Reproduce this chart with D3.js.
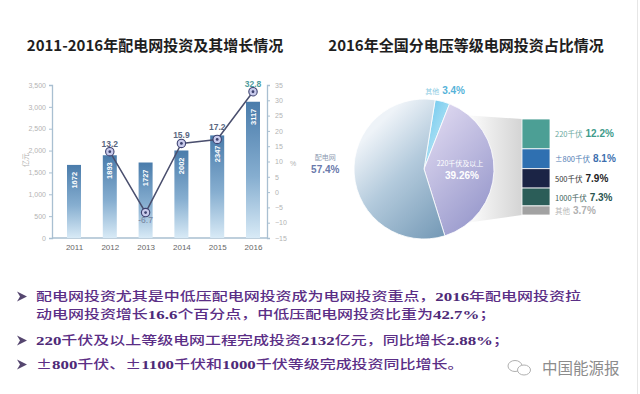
<!DOCTYPE html>
<html><head><meta charset="utf-8">
<script src="https://cdn.jsdelivr.net/npm/d3@7"></script>
<style>body{margin:0;background:#fff;} svg{display:block}</style>
</head><body><svg id="c" width="640" height="394"></svg>
<script>
// ---------- data ----------
const years = ["2011","2012","2013","2014","2015","2016"];
const investment = [1672,1893,1727,2002,2347,3117];
const growth = [null,13.2,-6.7,15.9,17.2,32.8];
const leftTicks = [0,500,1000,1500,2000,2500,3000,3500];
const rightTicks = [-15,-10,-5,0,5,10,15,20,25,30,35];
const leftTitle = "2011-2016年配电网投资及其增长情况";
const rightTitle = "2016年全国分电压等级电网投资占比情况";
const pieNames = ["其他","220千伏及以上","配电网"];
const pieValues = [3.4,39.26,57.4];
const subNames = ["220千伏","±800千伏","500千伏","1000千伏","其他"];
const subValues = [12.2,8.1,7.9,7.3,3.7];
const bulletLines = [
  "配电网投资尤其是中低压配电网投资成为电网投资重点，2016年配电网投资拉",
  "动电网投资增长16.6个百分点，中低压配电网投资比重为42.7%；",
  "220千伏及以上等级电网工程完成投资2132亿元，同比增长2.88%；",
  "±800千伏、±1100千伏和1000千伏等级完成投资同比增长。"
];
const bulletFlags = [true,false,true,true];
const watermark = "中国能源报";

// ---------- setup ----------
const svg = d3.select("#c");
const defs = svg.append("defs");
const CJK = "'Noto Sans CJK SC','Noto Sans',sans-serif";
const LAT = "'Liberation Sans','Noto Sans CJK SC',sans-serif";

svg.append("rect").attr("width",640).attr("height",394).attr("fill","#fff");
svg.append("line").attr("x1",637.5).attr("x2",637.5).attr("y1",0).attr("y2",394)
  .attr("stroke","#e6e6e6");

// titles
svg.append("text").attr("x",155).attr("y",51).attr("text-anchor","middle")
  .attr("font-family",CJK).attr("font-size",15).attr("font-weight",700).attr("fill","#1e1e1e")
  .text(leftTitle);
svg.append("text").attr("x",466).attr("y",51).attr("text-anchor","middle")
  .attr("font-family",CJK).attr("font-size",15).attr("font-weight",700).attr("fill","#1e1e1e")
  .text(rightTitle);

// ---------- left chart ----------
const plotL = 52, plotR = 267, plotT = 85, plotB = 238;
const x = d3.scalePoint().domain(years).range([74,253]);
const yL = d3.scaleLinear().domain([0,3500]).range([plotB,plotT]);
const yR = d3.scaleLinear().domain([-15,35]).range([plotB,plotT]);

const barGrad = defs.append("linearGradient").attr("id","barG")
  .attr("x1",0).attr("y1",0).attr("x2",0).attr("y2",1);
barGrad.append("stop").attr("offset","0%").attr("stop-color","#4a7cab");
barGrad.append("stop").attr("offset","55%").attr("stop-color","#86aed0");
barGrad.append("stop").attr("offset","100%").attr("stop-color","#d8eaf6");

const axisColor = "#a9bfd1";
const gL = svg.append("g").attr("transform",`translate(${plotL},0)`)
  .call(d3.axisLeft(yL).tickValues(leftTicks).tickSize(3).tickPadding(3));
const gR = svg.append("g").attr("transform",`translate(${plotR},0)`)
  .call(d3.axisRight(yR).tickValues(rightTicks).tickSize(3).tickPadding(5));
[gL,gR].forEach(g=>{
  g.select(".domain").attr("stroke",axisColor).attr("stroke-width",1.3);
  g.selectAll(".tick line").attr("stroke",axisColor);
  g.selectAll(".tick text").attr("fill","#b3b3b3").attr("font-size",7).attr("font-family",LAT);
});
svg.append("line").attr("x1",plotL).attr("x2",plotR).attr("y1",plotB).attr("y2",plotB)
  .attr("stroke",axisColor).attr("stroke-width",1.3);
const gX = svg.append("g").attr("transform",`translate(0,${plotB})`)
  .call(d3.axisBottom(x).tickSize(0).tickPadding(6));
gX.select(".domain").remove();
gX.selectAll(".tick text").attr("fill","#666").attr("font-size",8).attr("font-family",LAT);

svg.append("text").attr("transform","translate(28,160) rotate(-90)")
  .attr("text-anchor","middle").attr("font-family",CJK).attr("font-size",7).attr("fill","#b0b0b0").text("亿元");
svg.append("text").attr("x",290).attr("y",166)
  .attr("font-family",LAT).attr("font-size",7).attr("fill","#b0b0b0").text("%");

const barW = 14;
svg.append("g").selectAll("rect").data(investment).join("rect")
  .attr("x",(d,i)=>x(years[i])-barW/2).attr("width",barW)
  .attr("y",d=>yL(d)).attr("height",d=>plotB-yL(d))
  .attr("fill","url(#barG)");

// growth line
const gpts = growth.map((v,i)=>({year:years[i],v,inv:investment[i]})).filter(d=>d.v!=null);
svg.append("path").datum(gpts)
  .attr("d",d3.line().x(d=>x(d.year)).y(d=>yR(d.v)))
  .attr("fill","none").attr("stroke","#4a4f6e").attr("stroke-width",1.5);

svg.append("g").selectAll("text").data(investment).join("text")
  .attr("transform",(d,i)=>{
    const g = growth[i];
    let top = yL(d)+7;
    if(g!=null && g>0) top = Math.max(top, yR(g)+6);
    return `translate(${x(years[i])+2.5},${top}) rotate(-90)`;
  })
  .attr("text-anchor","end").attr("font-family",LAT).attr("font-size",7.5)
  .attr("font-weight",700).attr("fill","#fff").text(d=>d);

const mk = svg.append("g").selectAll("g").data(gpts).join("g")
  .attr("transform",d=>`translate(${x(d.year)},${yR(d.v)})`);
mk.append("circle").attr("r",4.2).attr("fill","#c9cbec").attr("stroke","#3d4270").attr("stroke-width",1.1);
mk.append("circle").attr("r",1.4).attr("fill","#3d4270");
svg.append("g").selectAll("text").data(gpts).join("text")
  .attr("x",d=>x(d.year))
  .attr("y",d=>d.v<0? yR(d.v)+10 : Math.min(yR(d.v),yL(d.inv))-5)
  .attr("text-anchor","middle").attr("font-family",LAT)
  .attr("font-size",8.5).attr("font-weight",d=>d.v<0?400:700)
  .attr("fill",(d,i)=> d.v<0 ? "#75839c" : (i===gpts.length-1 ? "#4f9c9c" : "#5a6780"))
  .text(d=>d.v);

// ---------- right chart (pie) ----------
const cx = 424, cy = 169, R = 70;
const a0 = 0.16;
const pie = d3.pie().sort(null).startAngle(a0).endAngle(a0+2*Math.PI);
const arcs = pie(pieValues);
const arc = d3.arc().innerRadius(0).outerRadius(R);

// subset bar geometry
const sbX = 522, sbW = 28;
const yS = d3.scaleLinear().domain([0,d3.sum(subValues)]).range([119,215]);

// fan connector
const fanG = defs.append("linearGradient").attr("id","fanG")
  .attr("gradientUnits","userSpaceOnUse").attr("x1",465).attr("x2",sbX).attr("y1",0).attr("y2",0);
fanG.append("stop").attr("offset","0%").attr("stop-color","#ffffff");
fanG.append("stop").attr("offset","100%").attr("stop-color","#d4d4d4");
const pTop = [cx+R*Math.sin(0.7), cy-R*Math.cos(0.7)];
const pBot = [cx+R*Math.sin(Math.PI-0.7), cy-R*Math.cos(Math.PI-0.7)];
svg.append("path")
  .attr("d",`M${pTop[0]},${pTop[1]}L${sbX},${yS(0)}L${sbX},${yS(d3.sum(subValues))}L${pBot[0]},${pBot[1]}Z`)
  .attr("fill","url(#fanG)");

// slice gradients (coordinates local to pie centre)
function lg(id,x1,y1,x2,y2,stops){
  const g = defs.append("linearGradient").attr("id",id)
    .attr("gradientUnits","userSpaceOnUse")
    .attr("x1",x1).attr("y1",y1).attr("x2",x2).attr("y2",y2);
  stops.forEach(s=>g.append("stop").attr("offset",s[0]).attr("stop-color",s[1]));
}
lg("sOther",-5,-R,25,-R+15,[["0%","#5cc0ec"],["100%","#a3ddf3"]]);
lg("sHigh",-10,-30,R,40,[["0%","#dcd6ef"],["100%","#9899cc"]]);
lg("sDist",-R,-20,20,R,[["0%","#eef3f8"],["40%","#b3cadc"],["100%","#7398b5"]]);
const sliceFill = ["url(#sOther)","url(#sHigh)","url(#sDist)"];

const pg = svg.append("g").attr("transform",`translate(${cx},${cy})`);
pg.selectAll("path").data(arcs).join("path")
  .attr("d",arc).attr("fill",(d,i)=>sliceFill[i])
  .attr("stroke","#fff").attr("stroke-width",0.8);

// pie labels
const outer = d3.arc().innerRadius(80).outerRadius(80);
const c0 = outer.centroid(arcs[0]);
pg.append("text").attr("x",c0[0]).attr("y",c0[1]+2).attr("text-anchor","middle")
  .call(t=>{
    t.append("tspan").attr("font-family",CJK).attr("font-size",7).attr("fill","#8ccbe3").text(pieNames[0]);
    t.append("tspan").attr("dx",3).attr("font-family",LAT).attr("font-size",10).attr("font-weight",700)
      .attr("fill","#56b3d9").text(pieValues[0]+"%");
  });
const inner = d3.arc().innerRadius(40).outerRadius(40);
const c1 = inner.centroid(arcs[1]);
pg.append("text").attr("x",c1[0]-4).attr("y",c1[1]-4).attr("text-anchor","middle")
  .attr("font-family",CJK).attr("font-size",7).attr("fill","#fff").text(pieNames[1]);
pg.append("text").attr("x",c1[0]-2).attr("y",c1[1]+9).attr("text-anchor","middle")
  .attr("font-family",LAT).attr("font-size",10).attr("font-weight",700).attr("fill","#fff").text(pieValues[1]+"%");
const far = d3.arc().innerRadius(100).outerRadius(100);
const c2 = far.centroid(arcs[2]);
pg.append("text").attr("x",c2[0]+1).attr("y",c2[1]-16).attr("text-anchor","middle")
  .attr("font-family",CJK).attr("font-size",7).attr("fill","#8d9bb2").text(pieNames[2]);
pg.append("text").attr("x",c2[0]+1).attr("y",c2[1]-3).attr("text-anchor","middle")
  .attr("font-family",LAT).attr("font-size",10).attr("font-weight",700).attr("fill","#6a79ab").text(pieValues[2]+"%");

// stacked sub bar
const subColors = ["#4c9f95","#2f70b1","#1b2445","#2b5d58","#a2a2a2"];
const nameColors = ["#6aa8a0","#4f7cb4","#333","#3b5e5a","#b8b8b8"];
const valColors = ["#3f9c8c","#3d6fae","#222","#2a5550","#b0b0b0"];
const cum = subValues.map((v,i)=>d3.sum(subValues.slice(0,i)));
const sg = svg.append("g");
sg.selectAll("rect").data(subValues).join("rect")
  .attr("x",sbX).attr("width",sbW)
  .attr("y",(d,i)=>yS(cum[i])).attr("height",d=>yS(d)-yS(0))
  .attr("fill",(d,i)=>subColors[i]).attr("stroke","#fff").attr("stroke-width",0.8);
sg.selectAll("text").data(subValues).join("text")
  .attr("x",sbX+sbW+5).attr("y",(d,i)=>yS(cum[i]+d/2)+3.5)
  .each(function(d,i){
    const t = d3.select(this);
    t.append("tspan").attr("font-family",CJK).attr("font-size",7.5).attr("fill",nameColors[i]).text(subNames[i]);
    t.append("tspan").attr("dx",3).attr("font-family",LAT).attr("font-size",10).attr("font-weight",700)
      .attr("fill",valColors[i]).text(d+"%");
  });

// ---------- bottom text ----------
const lineY = [301,319,345,369];
const txtColor = "#5b2e86";
bulletLines.forEach((s,i)=>{
  if(bulletFlags[i]){
    svg.append("path").attr("transform",`translate(17,${lineY[i]-4.5})`)
      .attr("d","M0,-5L10,0L0,5L3,0Z").attr("fill","#55466f");
  }
  const t = svg.append("text").attr("transform",`translate(36,${lineY[i]}) scale(1.3,1)`)
    .attr("font-family","'Liberation Serif','Noto Sans CJK SC',serif").attr("font-size",12.3)
    .attr("fill",txtColor);
  s.split(/([0-9.%]+)/).filter(p=>p.length).forEach(p=>{
    const isNum = /^[0-9.%]+$/.test(p);
    t.append("tspan").attr("font-weight",isNum?700:500)
      .attr("font-family",isNum?"'Liberation Serif',serif":CJK)
      .attr("font-size",isNum?13:12.3)
      .attr("fill",isNum?"#4e2a78":txtColor).text(p);
  });
});

// watermark
const wm = svg.append("g").attr("transform","translate(508,360)");
wm.append("ellipse").attr("cx",7).attr("cy",6).attr("rx",7).attr("ry",5.5).attr("fill","none").attr("stroke","#b0b0b0").attr("stroke-width",1);
wm.append("ellipse").attr("cx",16).attr("cy",10).attr("rx",6.5).attr("ry",5).attr("fill","#fff").attr("stroke","#b0b0b0").attr("stroke-width",1);
svg.append("text").attr("x",542).attr("y",374).attr("font-family",CJK).attr("font-size",15.5)
  .attr("fill","#8c8c8c").text(watermark);
</script></body></html>
